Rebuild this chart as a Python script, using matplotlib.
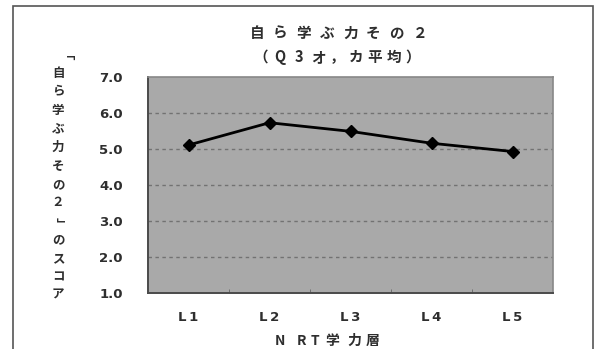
import matplotlib
matplotlib.use("Agg")
import matplotlib.pyplot as plt
from matplotlib.patches import Rectangle
from matplotlib.ticker import FixedLocator

plt.rcParams['font.family'] = ['Noto Sans CJK JP', 'DejaVu Sans']

# Data
levels = ["L\u20091", "L\u20092", "L\u20093", "L\u20094", "L\u20095"]
scores = [5.11, 5.73, 5.49, 5.16, 4.93]
y_ticks = [1.0, 2.0, 3.0, 4.0, 5.0, 6.0, 7.0]
title_lines = ["自ら学ぶ力その２", "（Q3オ，カ平均）"]
y_label = "「自ら学ぶ力その２」のスコア"
x_label = "NRT学力層"

W, H = 595, 349
TEXT = "#2e2e2e"
fig = plt.figure(figsize=(W / 100, H / 100), dpi=100)
fig.patch.set_facecolor("white")

def fx(px):
    return px / W

def fy(py):
    return 1 - py / H

def spaced(text, x0, x1, y, size, centers=None):
    """Write text one character at a time, spread between two x positions."""
    n = len(text)
    xs = centers if centers is not None else [x0 + (x1 - x0) * i / (n - 1) for i in range(n)]
    for ch, xc in zip(text, xs):
        fig.text(fx(xc), fy(y), ch, ha="center", va="center",
                 fontsize=size, fontweight="bold", color=TEXT)

# outer chart frame (runs off the bottom edge)
fig.patches.append(Rectangle((fx(13), fy(360)), fx(593) - fx(13), fy(6) - fy(360),
                             transform=fig.transFigure, fill=False,
                             edgecolor="#555555", linewidth=1.2))

ax = fig.add_axes([fx(148), fy(293), fx(553) - fx(148), fy(77) - fy(293)])
ax.set_facecolor("#a9a9a9")

x = list(range(len(levels)))
ax.plot(x, scores, color="black", linewidth=2.0, marker="D", markersize=6.5,
        markerfacecolor="black", markeredgecolor="black", zorder=3)

ax.set_xlim(-0.5, len(levels) - 0.5)
ax.set_ylim(1.0, 7.0)
ax.set_yticks(y_ticks)
ax.set_yticklabels([f"{v:.1f}" for v in y_ticks])
ax.set_xticks(x)
ax.set_xticklabels(levels)

for v in y_ticks[1:-1]:
    ax.axhline(v, color="#727272", linewidth=1.0, linestyle=(0, (2.5, 2.5)), zorder=1)

ax.xaxis.set_minor_locator(FixedLocator([i + 0.5 for i in range(len(levels) - 1)]))
ax.tick_params(axis="x", which="major", length=0, pad=13)
ax.tick_params(axis="x", which="minor", direction="in", length=3, color="#666666")
ax.tick_params(axis="y", which="major", length=0, pad=18)

for lab in ax.get_xticklabels() + ax.get_yticklabels():
    lab.set_fontsize(9.5)
    lab.set_fontweight("bold")
    lab.set_family("DejaVu Sans")
    lab.set_color(TEXT)

for side in ("top", "right"):
    ax.spines[side].set_color("#888888")
    ax.spines[side].set_linewidth(1.2)
for side in ("bottom", "left"):
    ax.spines[side].set_color("#4a4a4a")
    ax.spines[side].set_linewidth(1.4)

# title, widely spaced
spaced(title_lines[0], 257, 420, 33, 10.5)
spaced(title_lines[1], 261, 413, 57, 10.5)

# vertical y-axis label, one character per row; brackets turned for vertical writing
for i, ch in enumerate(y_label):
    rot, dx, dy = 0, 0, 0
    if ch == "「":
        rot, dx, dy = -90, 0, 6
    elif ch == "」":
        rot, dx, dy = -90, 2, 2
    fig.text(fx(58 + dx), fy(55 + i * 18.5 + dy), ch, ha="center", va="center",
             rotation=rot, fontsize=9, fontweight="bold", color=TEXT)

spaced(x_label, 0, 0, 341, 10, centers=[280, 302, 315, 332, 354, 373])

fig.savefig("out.png", dpi=100)
